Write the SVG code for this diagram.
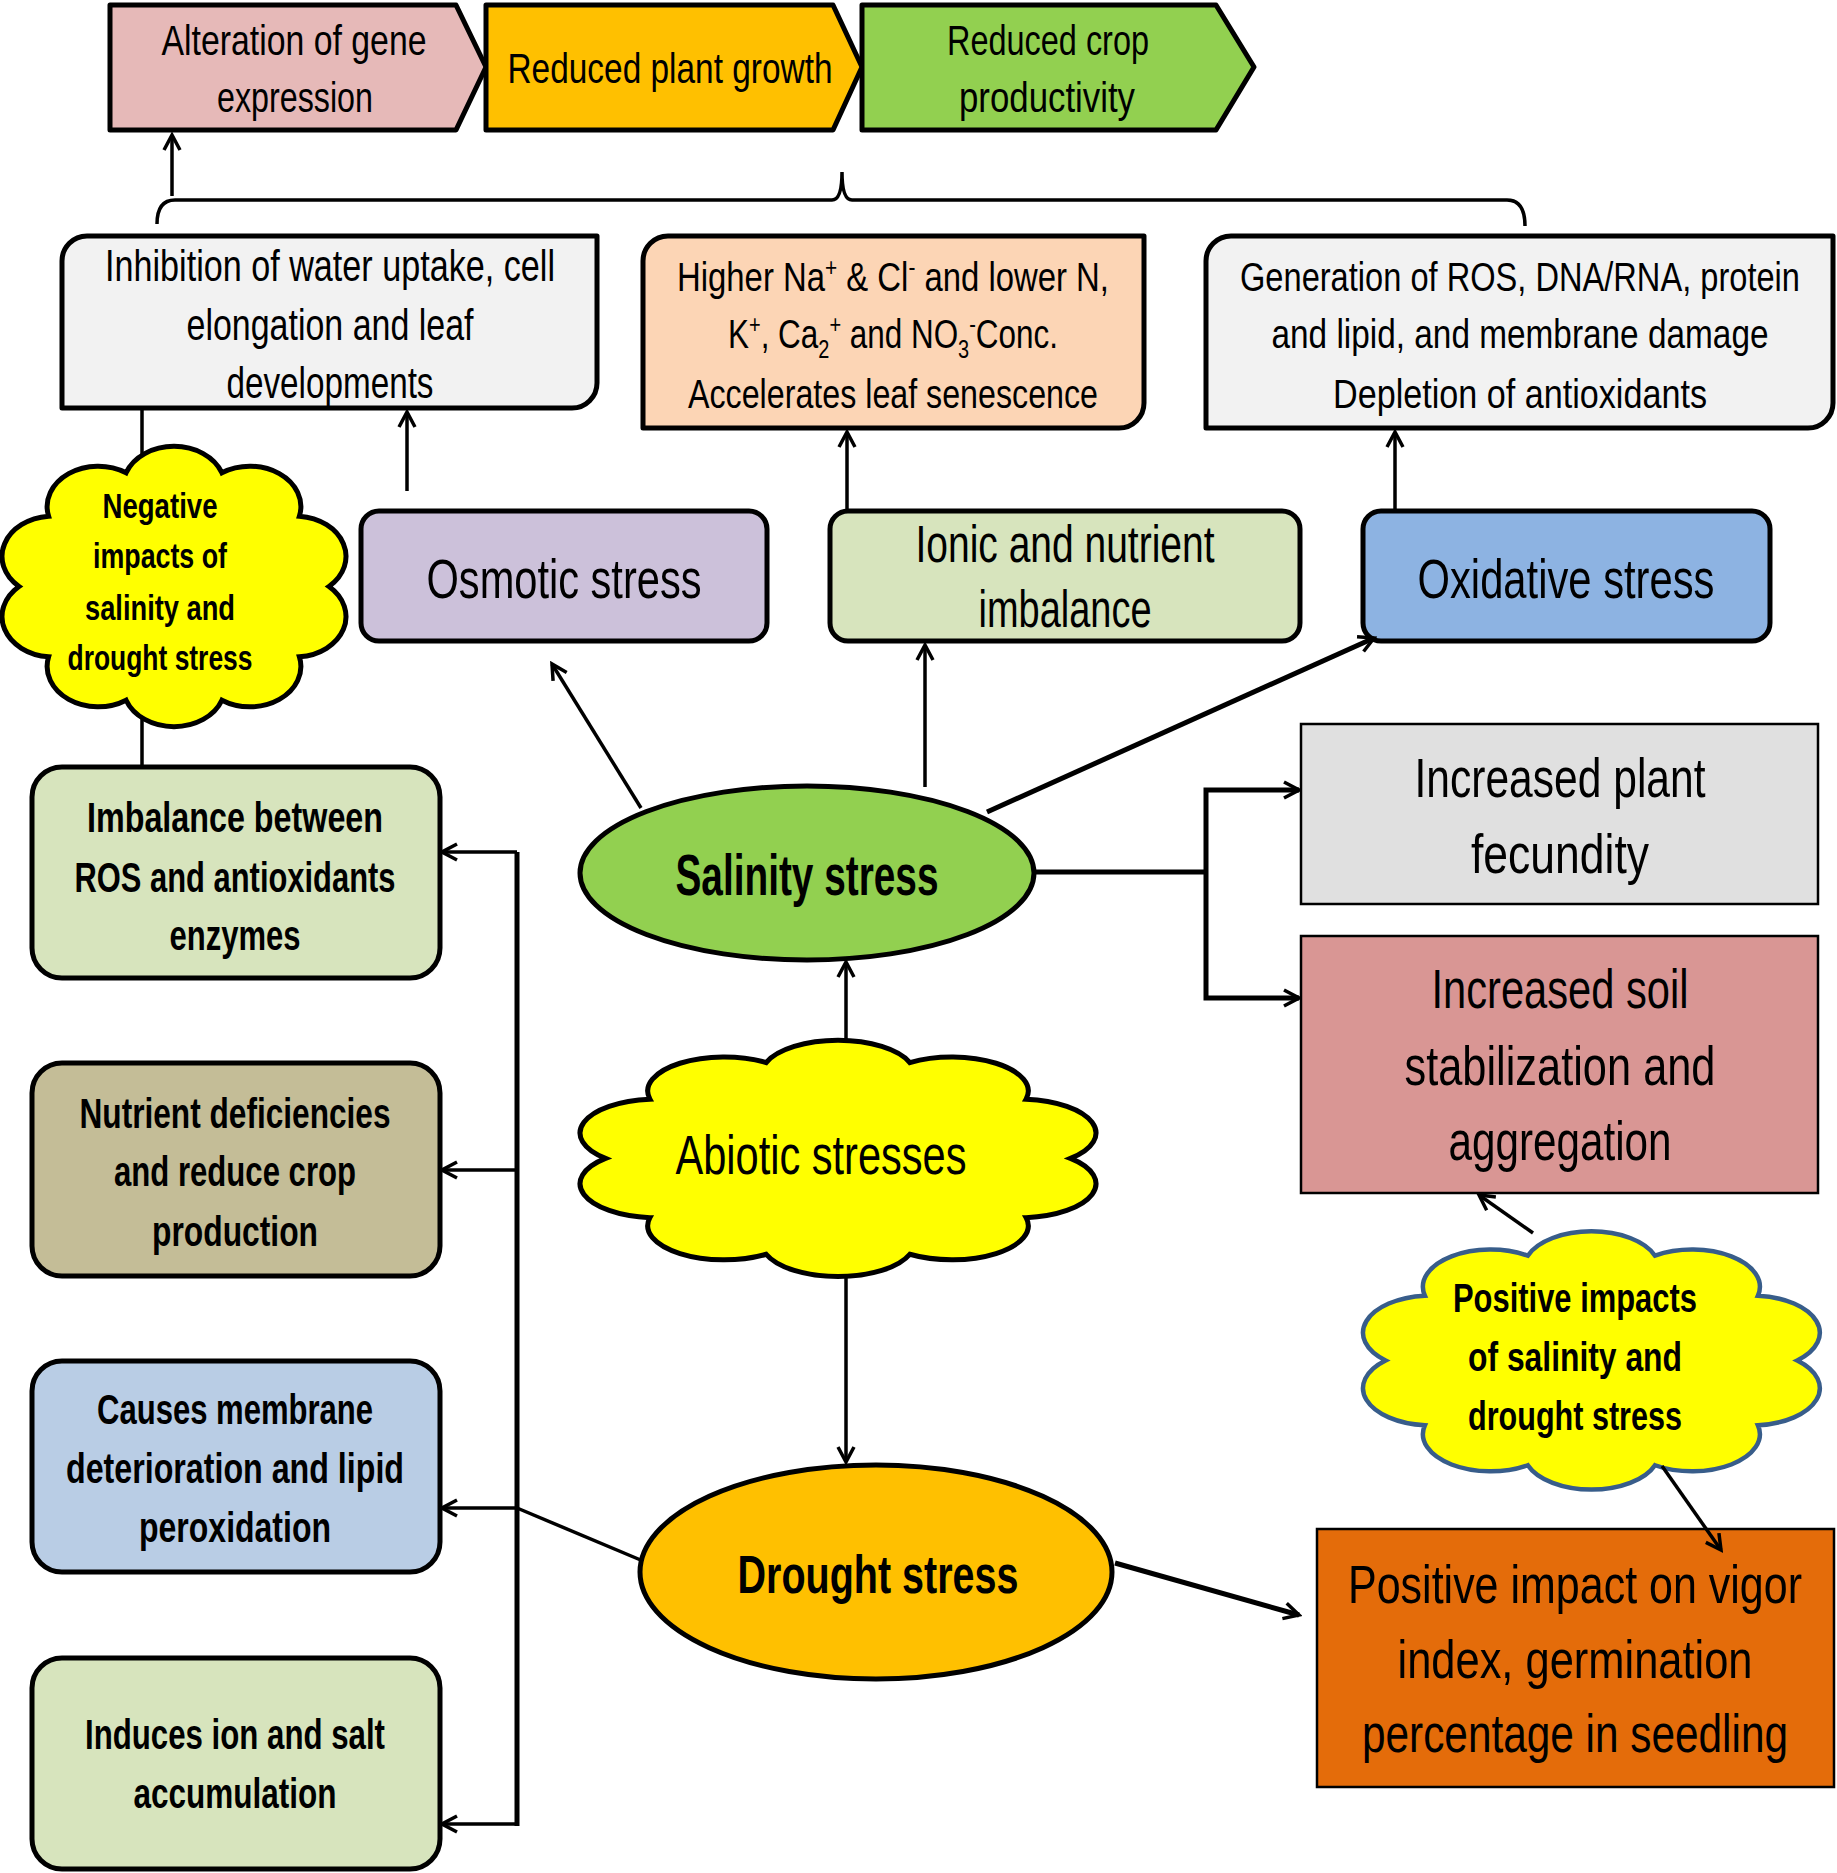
<svg xmlns="http://www.w3.org/2000/svg" xmlns:xlink="http://www.w3.org/1999/xlink" width="1837" height="1873" viewBox="0 0 1837 1873">
<style>
.t{font-family:"Liberation Sans",Arial,sans-serif;text-anchor:middle;fill:#000}
.b{font-weight:bold}
.bx{stroke:#000;stroke-width:5;stroke-linejoin:round}
.thin{stroke:#000;stroke-width:2.5}
.c{fill:none;stroke:#000;stroke-width:3.5}
.ck{fill:none;stroke:#000;stroke-width:5}
</style>
<defs>
<marker id="arr" viewBox="0 0 20 20" refX="17" refY="10" markerWidth="20" markerHeight="20" markerUnits="userSpaceOnUse" orient="auto-start-reverse">
<path d="M2,2 L17,10 L2,18" fill="none" stroke="#000" stroke-width="3.5" stroke-linejoin="miter"/>
</marker>
<path id="cloud" vector-effect="non-scaling-stroke" d="M37.33,11.96 A13.5,13.5 0 0 1 62.67,11.96 A13.5,13.5 0 0 1 83.17,26.49 A13.5,13.5 0 0 1 91,50 A13.5,13.5 0 0 1 83.17,73.51 A13.5,13.5 0 0 1 62.67,88.04 A13.5,13.5 0 0 1 37.33,88.04 A13.5,13.5 0 0 1 16.83,73.51 A13.5,13.5 0 0 1 9,50 A13.5,13.5 0 0 1 16.83,26.49 A13.5,13.5 0 0 1 37.33,11.96 Z"/>
</defs>
<rect width="1837" height="1873" fill="#fff"/>

<g id="n-gene">
<path class="bx" fill="#e6b9b8" d="M110,5 H456 L486,67 L456,130 H110 Z"/>
<text class="t" font-size="42" x="294" y="55" textLength="265" lengthAdjust="spacingAndGlyphs">Alteration of gene</text>
<text class="t" font-size="42" x="295" y="112" textLength="156" lengthAdjust="spacingAndGlyphs">expression</text>
</g>
<g id="n-growth">
<path class="bx" fill="#ffc000" d="M486,5 H833 L862,67 L833,130 H486 Z"/>
<text class="t" font-size="42" x="670" y="83" textLength="325" lengthAdjust="spacingAndGlyphs">Reduced plant growth</text>
</g>
<g id="n-productivity">
<path class="bx" fill="#92d050" d="M862,5 H1216 L1254,67 L1216,130 H862 Z"/>
<text class="t" font-size="42" x="1048" y="55" textLength="202" lengthAdjust="spacingAndGlyphs">Reduced crop</text>
<text class="t" font-size="42" x="1047" y="112" textLength="176" lengthAdjust="spacingAndGlyphs">productivity</text>
</g>

<g id="n-inhibition">
<path class="bx" fill="#f2f2f2" d="M62,261 A25,25 0 0 1 87,236 H597 V383 A25,25 0 0 1 572,408 H62 Z"/>
<text class="t" font-size="44" x="330" y="281" textLength="450" lengthAdjust="spacingAndGlyphs">Inhibition of water uptake, cell</text>
<text class="t" font-size="44" x="330" y="340" textLength="287" lengthAdjust="spacingAndGlyphs">elongation and leaf</text>
<text class="t" font-size="44" x="330" y="398" textLength="207" lengthAdjust="spacingAndGlyphs">developments</text>
</g>
<g id="n-ions">
<path class="bx" fill="#fcd5b5" d="M643,261 A25,25 0 0 1 668,236 H1144 V403 A25,25 0 0 1 1119,428 H643 Z"/>
<text class="t" font-size="41" x="893" y="291" textLength="432" lengthAdjust="spacingAndGlyphs">Higher Na<tspan dy="-15" font-size="26">+</tspan><tspan dy="15"> &amp; Cl</tspan><tspan dy="-15" font-size="26">-</tspan><tspan dy="15"> and lower N,</tspan></text>
<text class="t" font-size="41" x="893" y="348" textLength="330" lengthAdjust="spacingAndGlyphs">K<tspan dy="-15" font-size="26">+</tspan><tspan dy="15">, Ca</tspan><tspan dy="10" font-size="26">2</tspan><tspan dy="-25" font-size="26">+</tspan><tspan dy="15"> and NO</tspan><tspan dy="10" font-size="26">3</tspan><tspan dy="-25" font-size="26">-</tspan><tspan dy="15">Conc.</tspan></text>
<text class="t" font-size="41" x="893" y="408" textLength="410" lengthAdjust="spacingAndGlyphs">Accelerates leaf senescence</text>
</g>
<g id="n-ros">
<path class="bx" fill="#f2f2f2" d="M1206,261 A25,25 0 0 1 1231,236 H1833 V403 A25,25 0 0 1 1808,428 H1206 Z"/>
<text class="t" font-size="41" x="1520" y="291" textLength="560" lengthAdjust="spacingAndGlyphs">Generation of ROS, DNA/RNA, protein</text>
<text class="t" font-size="41" x="1520" y="348" textLength="497" lengthAdjust="spacingAndGlyphs">and lipid, and membrane damage</text>
<text class="t" font-size="41" x="1520" y="408" textLength="374" lengthAdjust="spacingAndGlyphs">Depletion of antioxidants</text>
</g>

<g id="n-negative">
<use xlink:href="#cloud" href="#cloud" transform="translate(-15,437) scale(3.78,2.99)" fill="#ffff00" stroke="#000" stroke-width="5"/>
<text class="t b" font-size="35" x="160" y="518" textLength="115" lengthAdjust="spacingAndGlyphs">Negative</text>
<text class="t b" font-size="35" x="160" y="568" textLength="134" lengthAdjust="spacingAndGlyphs">impacts of</text>
<text class="t b" font-size="35" x="160" y="620" textLength="150" lengthAdjust="spacingAndGlyphs">salinity and</text>
<text class="t b" font-size="35" x="160" y="670" textLength="185" lengthAdjust="spacingAndGlyphs">drought stress</text>
</g>

<g id="n-osmotic">
<rect class="bx" fill="#ccc1da" x="361" y="511" width="406" height="130" rx="18"/>
<text class="t" font-size="56" x="564" y="598" textLength="275" lengthAdjust="spacingAndGlyphs">Osmotic stress</text>
</g>
<g id="n-ionic">
<rect class="bx" fill="#d7e4bd" x="830" y="511" width="470" height="130" rx="18"/>
<text class="t" font-size="51" x="1065" y="562" textLength="299" lengthAdjust="spacingAndGlyphs">Ionic and nutrient</text>
<text class="t" font-size="51" x="1065" y="627" textLength="173" lengthAdjust="spacingAndGlyphs">imbalance</text>
</g>
<g id="n-oxidative">
<rect class="bx" fill="#8db3e2" x="1363" y="511" width="407" height="130" rx="18"/>
<text class="t" font-size="56" x="1566" y="598" textLength="297" lengthAdjust="spacingAndGlyphs">Oxidative stress</text>
</g>

<g id="n-salinity">
<ellipse class="bx" fill="#92d050" cx="807" cy="873" rx="227" ry="87"/>
<text class="t b" font-size="58" x="807" y="895" textLength="263" lengthAdjust="spacingAndGlyphs">Salinity stress</text>
</g>

<g id="n-fecundity">
<rect class="thin" fill="#e0e0e0" x="1301" y="724" width="517" height="180"/>
<text class="t" font-size="55" x="1560" y="797" textLength="291" lengthAdjust="spacingAndGlyphs">Increased plant</text>
<text class="t" font-size="55" x="1560" y="873" textLength="178" lengthAdjust="spacingAndGlyphs">fecundity</text>
</g>
<g id="n-soil">
<rect class="thin" fill="#d99694" x="1301" y="936" width="517" height="257"/>
<text class="t" font-size="55" x="1560" y="1008" textLength="257" lengthAdjust="spacingAndGlyphs">Increased soil</text>
<text class="t" font-size="55" x="1560" y="1085" textLength="311" lengthAdjust="spacingAndGlyphs">stabilization and</text>
<text class="t" font-size="55" x="1560" y="1160" textLength="223" lengthAdjust="spacingAndGlyphs">aggregation</text>
</g>

<g id="n-abiotic">
<use xlink:href="#cloud" href="#cloud" transform="translate(554.5,1032.4) scale(5.67,2.52)" fill="#ffff00" stroke="#000" stroke-width="5"/>
<text class="t" font-size="55" x="821" y="1174" textLength="291" lengthAdjust="spacingAndGlyphs">Abiotic stresses</text>
</g>

<g id="n-positive">
<use xlink:href="#cloud" href="#cloud" transform="translate(1340.4,1222.7) scale(5.02,2.755)" fill="#ffff00" stroke="#385d8a" stroke-width="4.5"/>
<text class="t b" font-size="40" x="1575" y="1312" textLength="244" lengthAdjust="spacingAndGlyphs">Positive impacts</text>
<text class="t b" font-size="40" x="1575" y="1371" textLength="214" lengthAdjust="spacingAndGlyphs">of salinity and</text>
<text class="t b" font-size="40" x="1575" y="1430" textLength="214" lengthAdjust="spacingAndGlyphs">drought stress</text>
</g>

<g id="n-drought">
<ellipse class="bx" fill="#ffc000" cx="876" cy="1572" rx="236" ry="107"/>
<text class="t b" font-size="54" x="878" y="1593" textLength="281" lengthAdjust="spacingAndGlyphs">Drought stress</text>
</g>

<g id="n-vigor">
<rect class="thin" fill="#e46c0a" x="1317" y="1529" width="517" height="258"/>
<text class="t" font-size="54" x="1575" y="1603" textLength="454" lengthAdjust="spacingAndGlyphs">Positive impact on vigor</text>
<text class="t" font-size="54" x="1575" y="1678" textLength="355" lengthAdjust="spacingAndGlyphs">index, germination</text>
<text class="t" font-size="54" x="1575" y="1752" textLength="426" lengthAdjust="spacingAndGlyphs">percentage in seedling</text>
</g>

<g id="n-imbalance">
<rect class="bx" fill="#d7e4bd" x="32" y="767" width="408" height="211" rx="30"/>
<text class="t b" font-size="42" x="235" y="832" textLength="296" lengthAdjust="spacingAndGlyphs">Imbalance between</text>
<text class="t b" font-size="42" x="235" y="892" textLength="321" lengthAdjust="spacingAndGlyphs">ROS and antioxidants</text>
<text class="t b" font-size="42" x="235" y="950" textLength="131" lengthAdjust="spacingAndGlyphs">enzymes</text>
</g>
<g id="n-nutrient">
<rect class="bx" fill="#c4bd97" x="32" y="1063" width="408" height="213" rx="30"/>
<text class="t b" font-size="42" x="235" y="1128" textLength="311" lengthAdjust="spacingAndGlyphs">Nutrient deficiencies</text>
<text class="t b" font-size="42" x="235" y="1186" textLength="242" lengthAdjust="spacingAndGlyphs">and reduce crop</text>
<text class="t b" font-size="42" x="235" y="1246" textLength="166" lengthAdjust="spacingAndGlyphs">production</text>
</g>
<g id="n-membrane">
<rect class="bx" fill="#b9cde5" x="32" y="1361" width="408" height="211" rx="30"/>
<text class="t b" font-size="42" x="235" y="1424" textLength="276" lengthAdjust="spacingAndGlyphs">Causes membrane</text>
<text class="t b" font-size="42" x="235" y="1483" textLength="338" lengthAdjust="spacingAndGlyphs">deterioration and lipid</text>
<text class="t b" font-size="42" x="235" y="1542" textLength="192" lengthAdjust="spacingAndGlyphs">peroxidation</text>
</g>
<g id="n-ion">
<rect class="bx" fill="#d7e4bd" x="32" y="1658" width="408" height="211" rx="30"/>
<text class="t b" font-size="42" x="235" y="1749" textLength="300" lengthAdjust="spacingAndGlyphs">Induces ion and salt</text>
<text class="t b" font-size="42" x="235" y="1808" textLength="203" lengthAdjust="spacingAndGlyphs">accumulation</text>
</g>

<g id="connectors">
<path class="c" d="M157,224 Q157,200 175,200 L832,200 Q842,200 842,172 Q842,200 852,200 L1507,200 Q1525,200 1525,226"/>
<line class="c" x1="172" y1="196" x2="172" y2="135" marker-end="url(#arr)"/>
<line class="c" x1="407" y1="491" x2="407" y2="412" marker-end="url(#arr)"/>
<path class="c" d="M142,410 V456 M142,717 V765"/>
<line class="c" x1="847" y1="511" x2="847" y2="432" marker-end="url(#arr)"/>
<line class="c" x1="1395" y1="511" x2="1395" y2="432" marker-end="url(#arr)"/>
<line class="c" x1="641" y1="808" x2="552" y2="664" marker-end="url(#arr)"/>
<line class="c" x1="925" y1="787" x2="925" y2="645" marker-end="url(#arr)"/>
<line class="ck" x1="987" y1="812" x2="1374" y2="638" marker-end="url(#arr)"/>
<line class="ck" x1="1034" y1="872" x2="1206" y2="872"/>
<path class="ck" d="M1299,790 H1206 V998 H1299" marker-start="url(#arr)" marker-end="url(#arr)"/>
<line class="c" x1="846" y1="1040" x2="846" y2="962" marker-end="url(#arr)"/>
<line class="c" x1="846" y1="1277" x2="846" y2="1462" marker-end="url(#arr)"/>
<line class="c" x1="643" y1="1561" x2="517" y2="1508"/>
<line class="ck" x1="517" y1="852" x2="517" y2="1826"/>
<line class="c" x1="517" y1="852" x2="442" y2="852" marker-end="url(#arr)"/>
<line class="c" x1="517" y1="1170" x2="442" y2="1170" marker-end="url(#arr)"/>
<line class="c" x1="517" y1="1508" x2="442" y2="1508" marker-end="url(#arr)"/>
<line class="c" x1="517" y1="1824" x2="442" y2="1824" marker-end="url(#arr)"/>
<line class="ck" x1="1115" y1="1563" x2="1299" y2="1615" marker-end="url(#arr)"/>
<line class="c" x1="1533" y1="1233" x2="1479" y2="1195" marker-end="url(#arr)"/>
<line class="c" x1="1662" y1="1466" x2="1721" y2="1550" marker-end="url(#arr)"/>
</g>
</svg>
